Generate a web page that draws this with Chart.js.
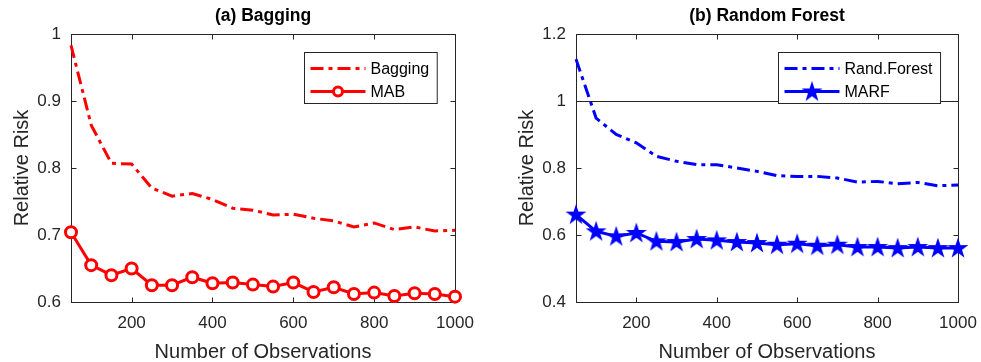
<!DOCTYPE html>
<html lang="en">
<head>
  <meta charset="UTF-8">
  <title>Relative Risk vs Number of Observations</title>
  <script src="https://cdn.jsdelivr.net/npm/chart.js"></script>
  <style>
    body {
      margin: 0;
      background: #fff;
    }
    .panel {
      position: absolute;
      top: 0;
      height: 362px;
    }
    #left { left: 0; width: 490px; }
    #right { left: 490px; width: 491px; }
  </style>
</head>
<body>
  <div class="panel" id="left"><canvas id="bagChart" width="490" height="362"></canvas></div>
  <div class="panel" id="right"><canvas id="rfChart" width="491" height="362"></canvas></div>

  <script>
    // values
    const observations = [50, 100, 150, 200, 250, 300, 350, 400, 450, 500,
                          550, 600, 650, 700, 750, 800, 850, 900, 950, 1000];
    const bagging = [0.983, 0.864, 0.807, 0.806, 0.770, 0.758, 0.762, 0.753, 0.740, 0.737,
                     0.730, 0.731, 0.725, 0.721, 0.712, 0.718, 0.708, 0.712, 0.706, 0.707];
    const mab = [0.704, 0.655, 0.640, 0.650, 0.625, 0.625, 0.637, 0.628, 0.629, 0.626,
                 0.623, 0.629, 0.615, 0.622, 0.612, 0.614, 0.609, 0.613, 0.612, 0.608];
    const randForest = [1.125, 0.949, 0.900, 0.875, 0.835, 0.820, 0.810, 0.810, 0.800, 0.790,
                        0.777, 0.775, 0.775, 0.770, 0.758, 0.760, 0.753, 0.757, 0.747, 0.749];
    const marf = [0.661, 0.611, 0.596, 0.606, 0.581, 0.579, 0.588, 0.584, 0.579, 0.576,
                  0.571, 0.574, 0.568, 0.571, 0.564, 0.564, 0.561, 0.564, 0.561, 0.561];

    const xTicks = [200, 400, 600, 800, 1000];
    const bagYTicks = [0.6, 0.7, 0.8, 0.9, 1];
    const rfYTicks = [0.4, 0.6, 0.8, 1, 1.2];
    const rfRefLine = 1;

    const AXIS = '#262626';
    Chart.defaults.font.family = '"Liberation Sans", Arial, sans-serif';
    Chart.defaults.color = AXIS;

    function starPath(ctx, cx, cy, R) {
      const r = R * 0.382;
      ctx.beginPath();
      for (let i = 0; i < 10; i++) {
        const rad = i % 2 ? r : R;
        const a = -Math.PI / 2 + i * Math.PI / 5;
        const px = cx + rad * Math.cos(a), py = cy + rad * Math.sin(a);
        if (i === 0) ctx.moveTo(px, py); else ctx.lineTo(px, py);
      }
      ctx.closePath();
    }

    // filled pentagram marker
    const starImg = document.createElement('canvas');
    starImg.width = 24;
    starImg.height = 24;
    (function () {
      const c = starImg.getContext('2d');
      c.fillStyle = '#0000ff';
      starPath(c, 12, 12.5, 11);
      c.fill();
    })();

    // box, inward ticks, title, legend in matlab style
    const matlabFrame = {
      id: 'matlabFrame',
      beforeDatasetsDraw(chart, args, opts) {
        const { ctx, chartArea: a, scales: { x, y } } = chart;
        ctx.save();
        ctx.strokeStyle = AXIS;
        ctx.lineWidth = 1;
        if (opts.refLine != null) {
          const ry = Math.round(y.getPixelForValue(opts.refLine)) + 0.5;
          ctx.beginPath();
          ctx.moveTo(a.left, ry);
          ctx.lineTo(a.right, ry);
          ctx.stroke();
        }
        const L = Math.round(a.left) + 0.5, R = Math.round(a.right) + 0.5;
        const T = Math.round(a.top) + 0.5, B = Math.round(a.bottom) + 0.5;
        ctx.strokeRect(L, T, R - L, B - T);
        ctx.beginPath();
        x.ticks.forEach(t => {
          const px = Math.round(x.getPixelForValue(t.value)) + 0.5;
          ctx.moveTo(px, B); ctx.lineTo(px, B - 5);
          ctx.moveTo(px, T); ctx.lineTo(px, T + 5);
        });
        y.ticks.forEach(t => {
          const py = Math.round(y.getPixelForValue(t.value)) + 0.5;
          ctx.moveTo(L, py); ctx.lineTo(L + 5, py);
          ctx.moveTo(R, py); ctx.lineTo(R - 5, py);
        });
        ctx.stroke();

        ctx.fillStyle = '#000';
        ctx.font = 'bold 17.5px "Liberation Sans", Arial, sans-serif';
        ctx.textAlign = 'center';
        ctx.textBaseline = 'middle';
        ctx.fillText(opts.title, (a.left + a.right) / 2, 16);
        ctx.restore();
      },
      afterDatasetsDraw(chart, args, opts) {
        const { ctx, chartArea: a } = chart;
        const sets = chart.data.datasets;
        ctx.save();
        ctx.font = '16px "Liberation Sans", Arial, sans-serif';
        const tw = Math.max(...sets.map(d => ctx.measureText(d.label).width));
        const w = 6 + 55 + 5 + tw + 8, h = 51;
        const bx = Math.round(a.right - 18 - w) + 0.5, by = Math.round(a.top + 18) + 0.5;
        ctx.fillStyle = '#fff';
        ctx.fillRect(bx, by, w, h);
        ctx.strokeStyle = AXIS;
        ctx.lineWidth = 1;
        ctx.strokeRect(bx, by, w, h);

        sets.forEach((d, i) => {
          const cy = by + 16 + i * 23;
          ctx.strokeStyle = d.borderColor;
          ctx.lineWidth = d.borderWidth;
          ctx.setLineDash(d.borderDash || []);
          ctx.beginPath();
          ctx.moveTo(bx + 6, cy);
          ctx.lineTo(bx + 61, cy);
          ctx.stroke();
          ctx.setLineDash([]);
          const mx = bx + 33.5;
          if (d.pointStyle === 'circle' && d.pointRadius > 0) {
            ctx.fillStyle = '#fff';
            ctx.lineWidth = d.pointBorderWidth;
            ctx.beginPath();
            ctx.arc(mx, cy, 4.5, 0, Math.PI * 2);
            ctx.fill();
            ctx.stroke();
          } else if (d.pointStyle === starImg) {
            ctx.drawImage(starImg, mx - 12, cy - 12);
          }
          ctx.fillStyle = '#000';
          ctx.textAlign = 'left';
          ctx.textBaseline = 'middle';
          ctx.fillText(d.label, bx + 66, cy + 1);
        });
        ctx.restore();
      }
    };

    function tickLabel(v) {
      return String(+v.toFixed(1));
    }

    function makeScales(yMin, yMax, yTicks, yWidth, yTitlePad) {
      return {
        x: {
          type: 'linear',
          min: 50,
          max: 1000,
          afterBuildTicks: s => { s.ticks = xTicks.map(v => ({ value: v })); },
          afterFit: s => { s.height = 60; s.paddingLeft = 0; s.paddingRight = 0; },
          grid: { display: false, drawTicks: false },
          border: { display: false },
          ticks: { padding: 11, maxRotation: 0, autoSkip: false, color: AXIS, font: { size: 17 }, callback: v => String(v) },
          title: {
            display: true,
            text: 'Number of Observations',
            color: AXIS,
            font: { size: 20, lineHeight: 1 },
            padding: { top: 0, bottom: 0 }
          }
        },
        y: {
          min: yMin,
          max: yMax,
          afterBuildTicks: s => { s.ticks = yTicks.map(v => ({ value: v })); },
          afterFit: s => { s.width = yWidth; s.paddingTop = 0; s.paddingBottom = 0; },
          grid: { display: false, drawTicks: false },
          border: { display: false },
          ticks: { padding: 10, color: AXIS, font: { size: 17 }, callback: tickLabel },
          title: {
            display: true,
            text: 'Relative Risk',
            color: AXIS,
            font: { size: 20, lineHeight: 1 },
            padding: { top: yTitlePad, bottom: 0 }
          }
        }
      };
    }

    const pts = arr => arr.map((v, i) => ({ x: observations[i], y: v }));

    new Chart(document.getElementById('bagChart').getContext('2d'), {
      type: 'line',
      data: {
        datasets: [{
          label: 'Bagging',
          data: pts(bagging),
          borderColor: '#ff0000',
          borderWidth: 3,
          borderDash: [13, 5, 4, 5],
          pointRadius: 0,
          pointStyle: false,
          tension: 0,
          clip: false
        }, {
          label: 'MAB',
          data: pts(mab),
          borderColor: '#ff0000',
          borderWidth: 3,
          pointStyle: 'circle',
          pointRadius: 5.5,
          pointBorderWidth: 3,
          pointBackgroundColor: '#fff',
          pointBorderColor: '#ff0000',
          tension: 0,
          clip: false
        }]
      },
      options: {
        responsive: false,
        animation: false,
        layout: { autoPadding: false, padding: { top: 34, right: 35, bottom: 0, left: 0 } },
        plugins: {
          legend: { display: false },
          tooltip: { enabled: false },
          matlabFrame: { title: '(a) Bagging' }
        },
        scales: makeScales(0.6, 1, bagYTicks, 71, 12)
      },
      plugins: [matlabFrame]
    });

    new Chart(document.getElementById('rfChart').getContext('2d'), {
      type: 'line',
      data: {
        datasets: [{
          label: 'Rand.Forest',
          data: pts(randForest),
          borderColor: '#0000ff',
          borderWidth: 3,
          borderDash: [13, 5, 4, 5],
          pointRadius: 0,
          pointStyle: false,
          tension: 0,
          clip: false
        }, {
          label: 'MARF',
          data: pts(marf),
          borderColor: '#0000ff',
          borderWidth: 3,
          pointStyle: starImg,
          pointRadius: 11,
          tension: 0,
          clip: false
        }]
      },
      options: {
        responsive: false,
        animation: false,
        layout: { autoPadding: false, padding: { top: 34, right: 23, bottom: 0, left: 0 } },
        plugins: {
          legend: { display: false },
          tooltip: { enabled: false },
          matlabFrame: { title: '(b) Random Forest', refLine: rfRefLine }
        },
        scales: makeScales(0.4, 1.2, rfYTicks, 86, 27)
      },
      plugins: [matlabFrame]
    });
  </script>
</body>
</html>
